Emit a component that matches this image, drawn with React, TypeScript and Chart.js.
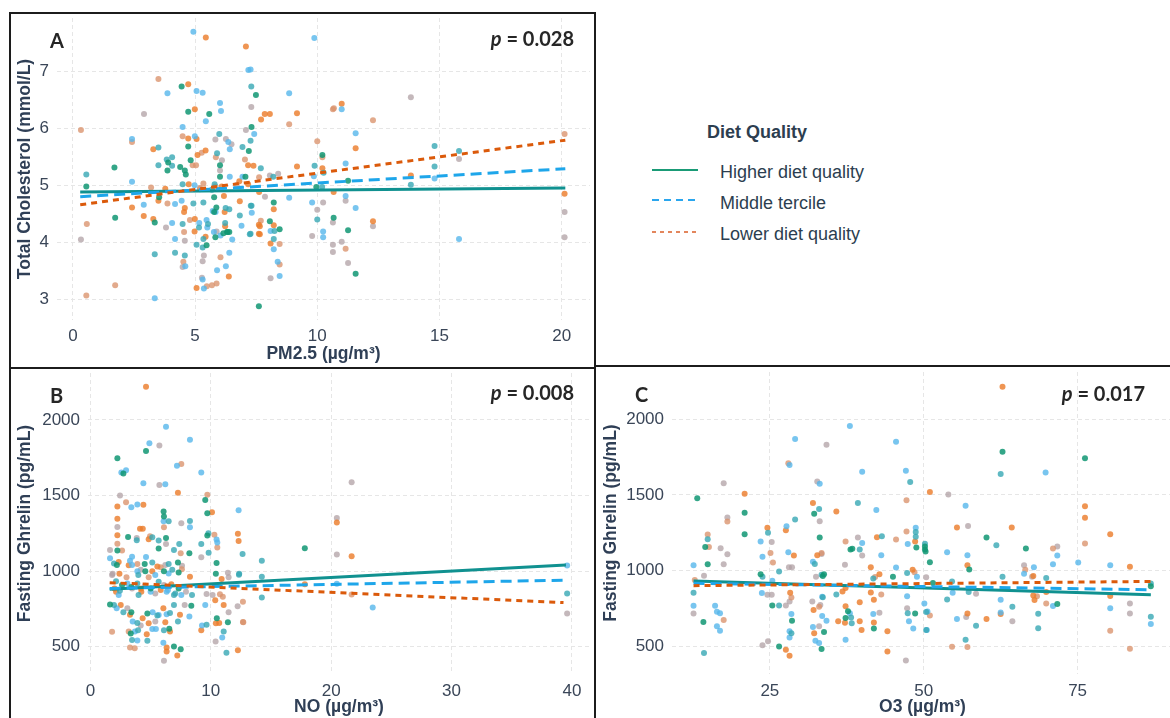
import React, { useEffect, useRef } from 'react';
import { Chart, registerables } from 'chart.js';

Chart.register(...registerables);

type Pt = [number, number];

// ---------------- Tick labels ----------------
const A_X_TICKS = [0, 5, 10, 15, 20];
const A_Y_TICKS = [3, 4, 5, 6, 7];
const B_X_TICKS = [0, 10, 20, 30, 40];
const C_X_TICKS = [25, 50, 75];
const GHRELIN_TICKS = [500, 1000, 1500, 2000];

// ---------------- Legend / groups ----------------
const LEGEND_TITLE = 'Diet Quality';
const GROUPS = ['Higher diet quality', 'Middle tercile', 'Lower diet quality'];

// ---------------- Panel A: PM2.5 vs Total Cholesterol ----------------
const A_G: Pt[] = [[4.45,6.73],[7.49,6.58],[4.72,6.29],[5.58,6.25],[7.31,6.02],[4.72,5.68],[7.2,5.6],[6.02,5.35],[3.87,5.26],[4.39,5.32],[4.58,5.26],[4.62,5.19],[4.82,5.44],[1.7,5.31],[0.55,4.98],[3.53,4.79],[6.02,5.15],[7.06,5.15],[1.73,4.43],[3.35,4.35],[6.31,4.18],[6.4,4.18],[7.61,2.88],[10.21,5.53],[9.96,4.97],[11.26,5.08],[8.22,4.7],[8.06,4.37],[8.46,4.23],[10.67,4.43],[11.26,4.21],[11.57,3.45],[5.78,4.79],[5.87,4.61],[5.78,4.53],[6.33,4.18],[5.47,3.95],[5.83,4.09],[6.16,4.16],[3.9,5.4]];
const A_C: Pt[] = [[7.3,6.73],[5.99,5.9],[6.94,5.67],[7.27,5.78],[3.5,5.66],[5.9,5.56],[3.5,5.35],[3.84,5.45],[4.06,5.49],[4.06,5.34],[0.55,5.19],[4.49,5.02],[5.8,5.02],[5.69,4.92],[4.93,4.68],[5.34,4.7],[6.25,4.6],[6.4,4.58],[7.28,4.64],[4.49,4.32],[5.16,4.26],[5.53,4.32],[6.23,4.34],[6.83,4.47],[7.27,4.15],[5.34,4.06],[5.31,3.91],[5.06,3.96],[3.35,3.79],[4.18,3.82],[4.58,3.77],[7.69,5.3],[8.2,5.15],[9.89,5.34],[10.26,5.22],[13.83,5.01],[14.8,5.33],[14.8,5.69],[15.8,5.6],[7.31,4.64],[7.24,4.14],[8.25,4.2],[8.22,4.06],[10.0,4.4],[10.2,4.97]];
const A_B: Pt[] = [[4.93,7.69],[7.18,7.02],[7.27,7.03],[3.87,6.61],[5.06,6.65],[5.31,6.62],[6.02,6.44],[6.06,6.3],[5.44,6.12],[4.49,6.02],[7.42,5.9],[2.42,5.81],[4.99,5.86],[6.36,5.76],[6.42,5.63],[2.42,5.06],[4.98,5.0],[6.42,5.15],[6.94,5.15],[2.9,4.66],[4.18,4.67],[4.45,4.73],[5.72,4.55],[5.84,4.53],[7.32,4.52],[4.06,4.34],[5.17,4.34],[5.47,4.39],[5.5,4.26],[5.77,4.18],[6.04,4.12],[6.52,4.05],[6.9,4.29],[4.18,4.06],[4.6,3.58],[6.4,3.82],[5.9,3.51],[6.26,3.58],[5.31,3.35],[5.36,3.19],[3.35,3.02],[9.88,7.58],[8.85,6.61],[11.0,6.33],[11.57,5.91],[9.86,5.16],[11.16,5.38],[14.8,5.12],[8.85,4.78],[9.79,4.7],[11.16,4.81],[8.09,4.2],[8.22,3.88],[8.38,3.66],[8.46,3.41],[10.24,4.19],[10.24,4.09],[15.8,4.06],[11.57,4.6]];
const A_O: Pt[] = [[5.44,7.59],[7.08,7.43],[4.72,6.77],[4.99,6.33],[4.72,5.82],[5.06,5.81],[3.29,5.63],[5.43,5.61],[5.1,5.53],[7.17,5.35],[7.39,5.34],[3.78,4.94],[3.5,4.73],[4.74,5.02],[6.09,4.98],[6.18,4.81],[6.81,5.07],[7.17,5.02],[2.42,4.61],[4.55,4.53],[4.58,4.6],[6.21,4.53],[6.83,4.72],[2.9,4.46],[3.29,4.41],[4.99,4.41],[4.98,4.19],[6.23,4.28],[7.61,4.31],[7.61,4.15],[5.43,4.1],[6.38,3.4],[5.06,3.2],[7.7,6.15],[7.85,6.25],[8.06,6.25],[9.17,6.26],[11.0,6.43],[11.57,5.65],[9.17,5.33],[10.21,5.3],[13.83,5.17],[7.62,4.88],[10.67,4.88],[8.22,4.58],[7.65,4.28],[7.65,4.14],[8.22,4.3],[8.09,3.98],[12.28,4.37],[20.12,4.85]];
const A_S: Pt[] = [[3.5,6.86],[0.33,5.97],[2.42,5.76],[4.49,5.86],[5.27,5.57],[5.85,5.49],[7.04,5.45],[4.9,5.35],[5.04,5.35],[3.2,4.96],[5.34,5.03],[5.83,4.98],[3.87,4.68],[4.55,4.18],[4.79,4.39],[4.52,3.66],[6.04,3.74],[5.69,3.25],[5.88,3.28],[5.48,3.23],[1.73,3.25],[0.55,3.07],[0.57,4.32],[8.85,6.07],[10.64,6.33],[10.68,6.35],[12.28,6.14],[10.0,5.77],[20.12,5.9],[7.62,5.14],[10.21,5.49],[7.69,4.38],[8.46,3.97],[8.46,3.61],[11.16,3.89],[5.2,4.95]];
const A_Y: Pt[] = [[2.91,6.25],[7.3,6.37],[7.08,5.97],[5.83,5.8],[6.26,5.81],[6.49,5.72],[6.1,5.44],[6.02,5.26],[5.2,4.93],[3.81,4.26],[5.88,4.19],[0.33,4.05],[4.58,4.03],[5.36,3.77],[5.31,3.67],[4.49,3.57],[5.28,3.38],[13.83,6.54],[15.8,5.46],[8.4,5.2],[8.06,5.17],[7.86,4.8],[10.24,4.7],[11.16,4.73],[10.0,4.57],[9.79,4.11],[10.64,4.35],[10.64,3.96],[11.0,4.01],[10.64,3.83],[11.26,3.64],[12.28,4.28],[20.12,4.53],[20.12,4.09],[8.09,3.37],[6.7,5.0]];
const A_FIT_HIGH: Pt[] = [[0.3,4.88],[20.15,4.95]];
const A_FIT_MID: Pt[] = [[0.3,4.8],[20.15,5.29]];
const A_FIT_LOW: Pt[] = [[0.3,4.66],[20.15,5.79]];

// ---------------- Panel B: NO vs Fasting Ghrelin ----------------
const B_G: Pt[] = [[4.62,1795],[2.24,1746],[2.74,1645],[9.54,1471],[6.08,1395],[6.11,1362],[9.71,1383],[3.13,1226],[5.67,1149],[6.28,1219],[2.24,1136],[8.22,1118],[9.71,1235],[10.48,1054],[2.2,1040],[4.51,1048],[7.27,1057],[4.56,1000],[6.11,1000],[7.33,991],[3.4,895],[1.63,780],[3.4,728],[4.73,720],[8.38,772],[3.35,588],[6.55,619],[6.94,502],[7.5,484],[10.5,689],[11.42,662],[10.42,983],[17.81,1151],[2.63,908],[5.01,886],[7.33,886]];
const B_C: Pt[] = [[8.27,1331],[6.5,1330],[5.14,1224],[3.85,1205],[5.67,1202],[6.94,1140],[7.38,1180],[9.21,1180],[9.82,1122],[9.8,1250],[12.64,1114],[1.96,1050],[5.14,1057],[6.5,1048],[3.98,975],[2.13,934],[6.8,1010],[12.36,982],[2.45,870],[4.0,842],[6.94,842],[1.96,776],[2.74,728],[3.9,658],[3.96,610],[5.56,706],[6.61,724],[6.94,776],[7.27,667],[3.46,544],[4.73,540],[6.11,610],[9.65,645],[11.07,601],[11.3,460],[14.24,1068],[14.24,963],[14.24,825],[12.34,976],[39.6,853],[3.9,919],[5.67,930],[7.05,853],[8.44,842]];
const B_B: Pt[] = [[6.28,1954],[4.9,1846],[8.27,1868],[2.57,1652],[2.96,1667],[7.19,1697],[9.21,1652],[4.4,1581],[6.22,1574],[3.4,1423],[3.9,1441],[6.08,1330],[8.27,1290],[12.31,1403],[1.63,1085],[3.29,1068],[3.46,1095],[4.62,1094],[10.48,1210],[10.54,1190],[3.46,1040],[3.9,1000],[5.39,975],[6.5,985],[2.35,842],[5.0,864],[6.33,864],[7.55,842],[2.18,754],[3.51,667],[5.17,728],[5.67,710],[6.33,715],[8.22,700],[3.7,601],[3.9,542],[5.14,618],[5.44,618],[6.06,526],[9.27,640],[10.95,561],[9.54,776],[20.47,917],[23.45,759],[39.6,1037],[3.07,919],[4.56,904],[6.44,875]];
const B_O: Pt[] = [[4.62,2219],[2.24,1428],[4.4,1439],[7.27,1518],[2.24,1347],[4.12,1281],[4.35,1281],[10.1,1390],[4.84,1211],[2.24,1238],[12.25,1248],[12.31,1200],[2.35,1061],[3.18,1039],[5.56,1031],[2.41,983],[5.14,1000],[8.27,963],[10.9,948],[2.13,864],[4.2,886],[5.84,875],[6.72,913],[2.52,776],[3.29,711],[4.34,689],[4.84,656],[6.06,754],[6.22,662],[7.44,711],[4.68,583],[6.61,601],[6.33,495],[6.33,469],[7.22,443],[9.21,610],[10.42,656],[10.7,658],[10.37,807],[11.07,776],[12.25,477],[20.47,1322],[21.7,1099],[17.81,914],[2.0,886],[4.23,864]];
const B_S: Pt[] = [[7.55,1708],[2.96,1456],[9.71,1505],[2.24,1181],[4.95,1230],[6.11,1290],[7.5,1118],[10.54,1156],[10.3,1240],[2.63,1136],[3.9,1048],[5.84,1025],[7.6,1012],[3.0,960],[4.84,960],[3.18,601],[3.29,495],[3.68,491],[10.76,847],[11.0,830],[12.7,662],[12.67,797],[12.67,664],[21.7,845],[1.8,600]];
const B_Y: Pt[] = [[5.73,1831],[5.73,1570],[2.46,1500],[2.24,1292],[7.55,1316],[3.85,1219],[6.28,1180],[1.63,1140],[9.21,1092],[4.18,1010],[6.22,1040],[7.61,1035],[1.85,983],[11.42,989],[11.48,960],[3.07,754],[4.18,640],[5.39,667],[7.83,776],[6.11,408],[10.4,535],[10.15,842],[9.65,849],[11.48,728],[21.7,1588],[20.47,1351],[20.47,1110],[12.23,768],[39.6,720],[1.8,974],[3.46,886],[5.39,853],[6.11,908],[7.94,864]];
const B_FIT_HIGH: Pt[] = [[1.6,880],[39.5,1040]];
const B_FIT_MID: Pt[] = [[1.6,886],[39.3,940]];
const B_FIT_LOW: Pt[] = [[1.6,924],[39.3,792]];

// ---------------- Panel C: O3 vs Fasting Ghrelin ----------------
const C_G: Pt[] = [[13.2,1478],[32.2,1376],[20.9,1383],[20.9,1241],[14.5,1157],[14.9,1044],[33.1,1219],[38.1,1140],[38.4,1145],[48.8,1153],[50.3,1127],[23.5,978],[33.8,978],[33.6,965],[45.0,961],[14.2,662],[25.4,772],[28.6,671],[26.5,502],[33.4,484],[33.8,597],[37.7,733],[37.3,689],[41.9,619],[48.6,719],[62.8,1785],[76.2,1741],[60.2,1219],[50.2,1160],[50.2,1140],[51.0,1057],[57.4,1009],[66.6,1147],[71.7,781],[86.9,899],[51.5,920]];
const C_C: Pt[] = [[47.8,1585],[33.0,1408],[39.3,1447],[29.1,1338],[14.9,1208],[24.7,1250],[39.6,1140],[43.2,1228],[48.7,1255],[48.7,1225],[32.3,1045],[23.8,961],[26.5,996],[33.4,974],[41.8,950],[47.3,985],[12.6,855],[14.3,458],[26.5,772],[28.5,588],[33.6,825],[35.8,844],[38.2,693],[38.3,655],[47.4,720],[50.4,728],[50.4,610],[62.5,1638],[61.8,1169],[50.2,1178],[62.8,961],[54.6,930],[53.8,811],[57.3,860],[58.5,638],[56.8,546],[64.4,763],[68.6,717],[68.6,621],[69.9,952],[86.9,917],[86.9,697]];
const C_B: Pt[] = [[38.0,1954],[29.1,1869],[28.2,1698],[40.0,1652],[45.5,1851],[47.1,1660],[33.1,1573],[42.3,1401],[27.7,1294],[23.5,1193],[40.0,1184],[47.4,1177],[48.7,1283],[23.8,1092],[28.0,1123],[32.0,1059],[43.1,1103],[12.6,1036],[45.5,1022],[25.4,934],[48.9,960],[12.6,770],[16.1,770],[16.4,730],[16.9,721],[16.4,634],[16.9,605],[23.7,853],[28.5,715],[28.2,601],[28.2,561],[32.0,630],[32.4,539],[33.0,524],[33.5,702],[34.2,671],[33.5,829],[37.3,546],[38.0,720],[41.8,715],[47.3,833],[47.6,667],[48.3,619],[69.8,1647],[56.8,1428],[53.8,1123],[57.1,1103],[71.7,1101],[71.0,1044],[75.1,1055],[80.3,1037],[67.9,1024],[66.3,980],[54.7,855],[55.4,682],[50.1,785],[50.6,732],[50.5,610],[62.5,809],[62.5,726],[71.0,768],[80.3,753],[86.9,649]];
const C_O: Pt[] = [[20.9,1508],[32.0,1447],[35.8,1390],[24.6,1283],[27.6,1268],[32.7,1103],[28.9,1101],[42.4,1221],[48.6,1193],[41.4,1024],[42.8,978],[48.2,1007],[28.3,855],[32.1,741],[32.2,588],[27.6,480],[28.2,440],[36.8,864],[37.3,886],[37.3,767],[36.1,667],[37.2,658],[39.6,793],[39.9,610],[39.6,667],[41.4,857],[41.9,809],[41.9,660],[44.1,601],[44.1,469],[62.8,2213],[51.0,1520],[76.2,1426],[76.2,1349],[55.4,1285],[64.3,1285],[57.1,1037],[67.8,965],[57.1,719],[60.2,682],[62.5,715],[67.8,838],[68.0,807],[69.9,860],[80.3,1241],[83.5,1026],[80.3,834]];
const C_S: Pt[] = [[28.0,1709],[47.2,1465],[18.1,1325],[14.9,1239],[15.1,1157],[25.1,1118],[25.5,1055],[33.4,1118],[37.3,1193],[45.5,1206],[47.2,1259],[42.1,959],[48.5,990],[28.5,824],[17.5,676],[33.0,763],[43.1,844],[76.2,1180],[71.0,1147],[66.5,1007],[51.0,706],[54.6,500],[57.1,498],[68.4,833],[69.9,785],[80.3,605],[83.5,487],[12.8,940]];
const C_Y: Pt[] = [[34.2,1831],[17.5,1577],[32.7,1588],[18.1,1352],[33.1,1327],[25.3,1189],[17.0,1149],[18.1,1109],[33.4,1110],[40.0,1101],[39.3,1219],[17.5,1044],[14.3,967],[28.1,1024],[28.6,1024],[32.5,961],[12.6,719],[24.6,842],[25.3,842],[27.6,772],[28.2,798],[23.8,509],[24.7,535],[31.9,798],[33.2,775],[33.0,634],[42.8,724],[47.3,754],[47.1,409],[54.0,1502],[57.2,1296],[71.7,1160],[66.3,1037],[67.6,960],[58.5,849],[56.9,695],[64.4,667],[83.5,785],[83.5,719],[50.4,957],[37.2,1040]];
const C_FIT_HIGH: Pt[] = [[12.6,932],[86.9,842]];
const C_FIT_MID: Pt[] = [[12.6,918],[86.9,875]];
const C_FIT_LOW: Pt[] = [[12.6,902],[86.9,930]];

// ---------------- Styles ----------------
const POINT_COLORS = {
  G: 'rgba(16,150,115,0.85)',
  C: 'rgba(55,168,180,0.8)',
  B: 'rgba(86,182,235,0.8)',
  O: 'rgba(236,126,45,0.82)',
  S: 'rgba(218,146,108,0.78)',
  Y: 'rgba(176,160,164,0.75)',
};
const LINE_HIGH = '#109190';
const LINE_MID = '#1ea6ea';
const LINE_LOW = '#db5a0b';
const TICK_COLOR = '#3a4658';
const TITLE_COLOR = '#2f3f56';
const GRID_COLOR = '#e6e6e6';
const SANS = '"Liberation Sans", Arial, sans-serif';

type PanelSpec = {
  left: number; top: number; width: number; height: number;
  groups: { G: Pt[]; C: Pt[]; B: Pt[]; O: Pt[]; S: Pt[]; Y: Pt[] };
  fits: [Pt[], Pt[], Pt[]];
  xMin: number; xMax: number; yMin: number; yMax: number;
  xTicks: number[]; yTicks: number[];
  xTitle: string; yTitle: string;
  yAxisW: number; xAxisH: number; padTop: number; padRight: number;
  xTickPad: number; yTickPad: number; xTitlePad: number; yTitlePad: number;
};

function toXY(pts: Pt[]) {
  return pts.map(([x, y]) => ({ x, y }));
}

function zeroPad(sc: any) {
  sc.paddingTop = 0;
  sc.paddingBottom = 0;
  sc.paddingLeft = 0;
  sc.paddingRight = 0;
}

function ChartPanel({ spec }: { spec: PanelSpec }) {
  const ref = useRef<HTMLCanvasElement | null>(null);
  useEffect(() => {
    if (!ref.current) return;
    const s = spec;
    const pointSets = (Object.keys(s.groups) as (keyof typeof POINT_COLORS)[]).map((k) => ({
      type: 'scatter' as const,
      label: 'pts' + k,
      data: toXY(s.groups[k]),
      backgroundColor: POINT_COLORS[k],
      borderWidth: 0,
      pointRadius: 3,
      order: 2,
    }));
    const fitStyles = [
      { color: LINE_HIGH, dash: [] as number[], label: GROUPS[0] },
      { color: LINE_MID, dash: [11, 6], label: GROUPS[1] },
      { color: LINE_LOW, dash: [6, 5], label: GROUPS[2] },
    ];
    const lineSets = s.fits.map((f, i) => ({
      type: 'scatter' as const,
      label: fitStyles[i].label,
      data: toXY(f),
      showLine: true,
      borderColor: fitStyles[i].color,
      borderWidth: 3,
      borderDash: fitStyles[i].dash,
      pointRadius: 0,
      fill: false,
      order: 1 - i * 0.1,
    }));
    const tickFont = { family: SANS, size: 17 };
    const titleFont = { family: SANS, size: 17.5, weight: 'bold' as const };
    const chart = new Chart(ref.current, {
      type: 'scatter',
      data: { datasets: [...lineSets, ...pointSets] as any },
      options: {
        responsive: false,
        animation: false,
        devicePixelRatio: 1,
        events: [],
        layout: { padding: { left: 0, right: s.padRight, top: s.padTop, bottom: 0 } },
        plugins: { legend: { display: false }, tooltip: { enabled: false } },
        scales: {
          x: {
            type: 'linear',
            min: s.xMin,
            max: s.xMax,
            afterBuildTicks: (sc: any) => { sc.ticks = s.xTicks.map((v) => ({ value: v })); },
            afterFit: (sc: any) => { sc.height = s.xAxisH; zeroPad(sc); },
            ticks: { color: TICK_COLOR, font: tickFont, padding: s.xTickPad, maxRotation: 0, callback: (v: any) => String(v) },
            grid: { color: GRID_COLOR, drawTicks: false, lineWidth: 1 },
            border: { display: false, dash: [4, 3] },
            title: { display: true, text: s.xTitle, color: TITLE_COLOR, font: titleFont, padding: { top: 0, bottom: s.xTitlePad } },
          },
          y: {
            type: 'linear',
            min: s.yMin,
            max: s.yMax,
            afterBuildTicks: (sc: any) => { sc.ticks = s.yTicks.map((v) => ({ value: v })); },
            afterFit: (sc: any) => { sc.width = s.yAxisW; zeroPad(sc); },
            ticks: { color: TICK_COLOR, font: tickFont, padding: s.yTickPad, callback: (v: any) => String(v) },
            grid: { color: GRID_COLOR, drawTicks: false, lineWidth: 1 },
            border: { display: false, dash: [4, 3] },
            title: { display: true, text: s.yTitle, color: TITLE_COLOR, font: titleFont, padding: { top: s.yTitlePad, bottom: 0 } },
          },
        },
      } as any,
    });
    return () => chart.destroy();
  }, [spec]);
  return (
    <canvas
      ref={ref}
      width={spec.width}
      height={spec.height}
      style={{ position: 'absolute', left: spec.left, top: spec.top, width: spec.width, height: spec.height }}
    />
  );
}

const PANEL_A: PanelSpec = {
  left: 11, top: 14, width: 583, height: 352,
  groups: { G: A_G, C: A_C, B: A_B, O: A_O, S: A_S, Y: A_Y },
  fits: [A_FIT_HIGH, A_FIT_MID, A_FIT_LOW],
  xMin: -0.65, xMax: 21.16, yMin: 2.64, yMax: 7.93,
  xTicks: A_X_TICKS, yTicks: A_Y_TICKS,
  xTitle: 'PM2.5 (µg/m³)', yTitle: 'Total Cholesterol (mmol/L)',
  yAxisW: 46, xAxisH: 46, padTop: 3, padRight: 4,
  xTickPad: 6, yTickPad: 8, xTitlePad: 1, yTitlePad: 4,
};

const PANEL_B: PanelSpec = {
  left: 11, top: 369, width: 583, height: 349,
  groups: { G: B_G, C: B_C, B: B_B, O: B_O, S: B_S, Y: B_Y },
  fits: [B_FIT_HIGH, B_FIT_MID, B_FIT_LOW],
  xMin: -0.2, xMax: 41.5, yMin: 320, yMax: 2310,
  xTicks: B_X_TICKS, yTicks: GHRELIN_TICKS,
  xTitle: 'NO (µg/m³)', yTitle: 'Fasting Ghrelin (pg/mL)',
  yAxisW: 77, xAxisH: 44, padTop: 3, padRight: 4,
  xTickPad: 7, yTickPad: 8, xTitlePad: 0, yTitlePad: 4,
};

const PANEL_C: PanelSpec = {
  left: 597, top: 368, width: 580, height: 350,
  groups: { G: C_G, C: C_C, B: C_B, O: C_O, S: C_S, Y: C_Y },
  fits: [C_FIT_HIGH, C_FIT_MID, C_FIT_LOW],
  xMin: 9.1, xMax: 90.5, yMin: 320, yMax: 2310,
  xTicks: C_X_TICKS, yTicks: GHRELIN_TICKS,
  xTitle: 'O3 (µg/m³)', yTitle: 'Fasting Ghrelin (pg/mL)',
  yAxisW: 75, xAxisH: 44, padTop: 4, padRight: 2,
  xTickPad: 7, yTickPad: 8, xTitlePad: 0, yTitlePad: 4,
};

const labelStyle: React.CSSProperties = {
  position: 'absolute', fontFamily: 'Lato, "Open Sans", sans-serif', fontWeight: 700,
  fontSize: 20, lineHeight: '24px', color: '#262626', whiteSpace: 'nowrap',
};

function PValue({ text, right, top }: { text: string; right: number; top: number }) {
  return (
    <div style={{ ...labelStyle, right, top }}>
      <i>p</i> = {text}
    </div>
  );
}

const legendText: React.CSSProperties = {
  position: 'absolute', fontFamily: SANS, fontSize: 18, lineHeight: '22px', color: '#2c3e50', whiteSpace: 'nowrap',
};

export default function App() {
  useEffect(() => {
    document.body.style.margin = '0';
  }, []);
  const border = '2px solid #1c1c1c';
  return (
    <div style={{ position: 'fixed', left: 0, top: 0, width: 1170, height: 718, overflow: 'hidden', background: '#ffffff' }}>
      <ChartPanel spec={PANEL_A} />
      <ChartPanel spec={PANEL_B} />
      <ChartPanel spec={PANEL_C} />

      <div style={{ position: 'absolute', left: 9, top: 12, width: 587, height: 357, border, boxSizing: 'border-box' }} />
      <div style={{ position: 'absolute', left: 9, top: 367, width: 587, height: 380, border, boxSizing: 'border-box' }} />
      <div style={{ position: 'absolute', left: 594, top: 365, width: 620, height: 380, border, boxSizing: 'border-box' }} />

      <div style={{ ...labelStyle, left: 50, top: 28 }}>A</div>
      <div style={{ ...labelStyle, left: 50, top: 383 }}>B</div>
      <div style={{ ...labelStyle, left: 635, top: 382 }}>C</div>
      <PValue text="0.028" right={1170 - 574} top={26} />
      <PValue text="0.008" right={1170 - 574} top={380} />
      <PValue text="0.017" right={1170 - 1145} top={381} />

      <div style={{ ...legendText, left: 707, top: 121, fontWeight: 700 }}>{LEGEND_TITLE}</div>
      <svg style={{ position: 'absolute', left: 648, top: 160, width: 56, height: 84 }} width={56} height={84}>
        <line x1={4} y1={10} x2={50} y2={10} stroke="#1a9b76" strokeWidth={2.2} />
        <line x1={4} y1={40} x2={50} y2={40} stroke="#2aa6ee" strokeWidth={2.2} strokeDasharray="7 5" />
        <line x1={4} y1={72} x2={50} y2={72} stroke="#e3865c" strokeWidth={2.2} strokeDasharray="4 4" />
      </svg>
      <div style={{ ...legendText, left: 720, top: 161 }}>{GROUPS[0]}</div>
      <div style={{ ...legendText, left: 720, top: 192 }}>{GROUPS[1]}</div>
      <div style={{ ...legendText, left: 720, top: 223 }}>{GROUPS[2]}</div>
    </div>
  );
}
